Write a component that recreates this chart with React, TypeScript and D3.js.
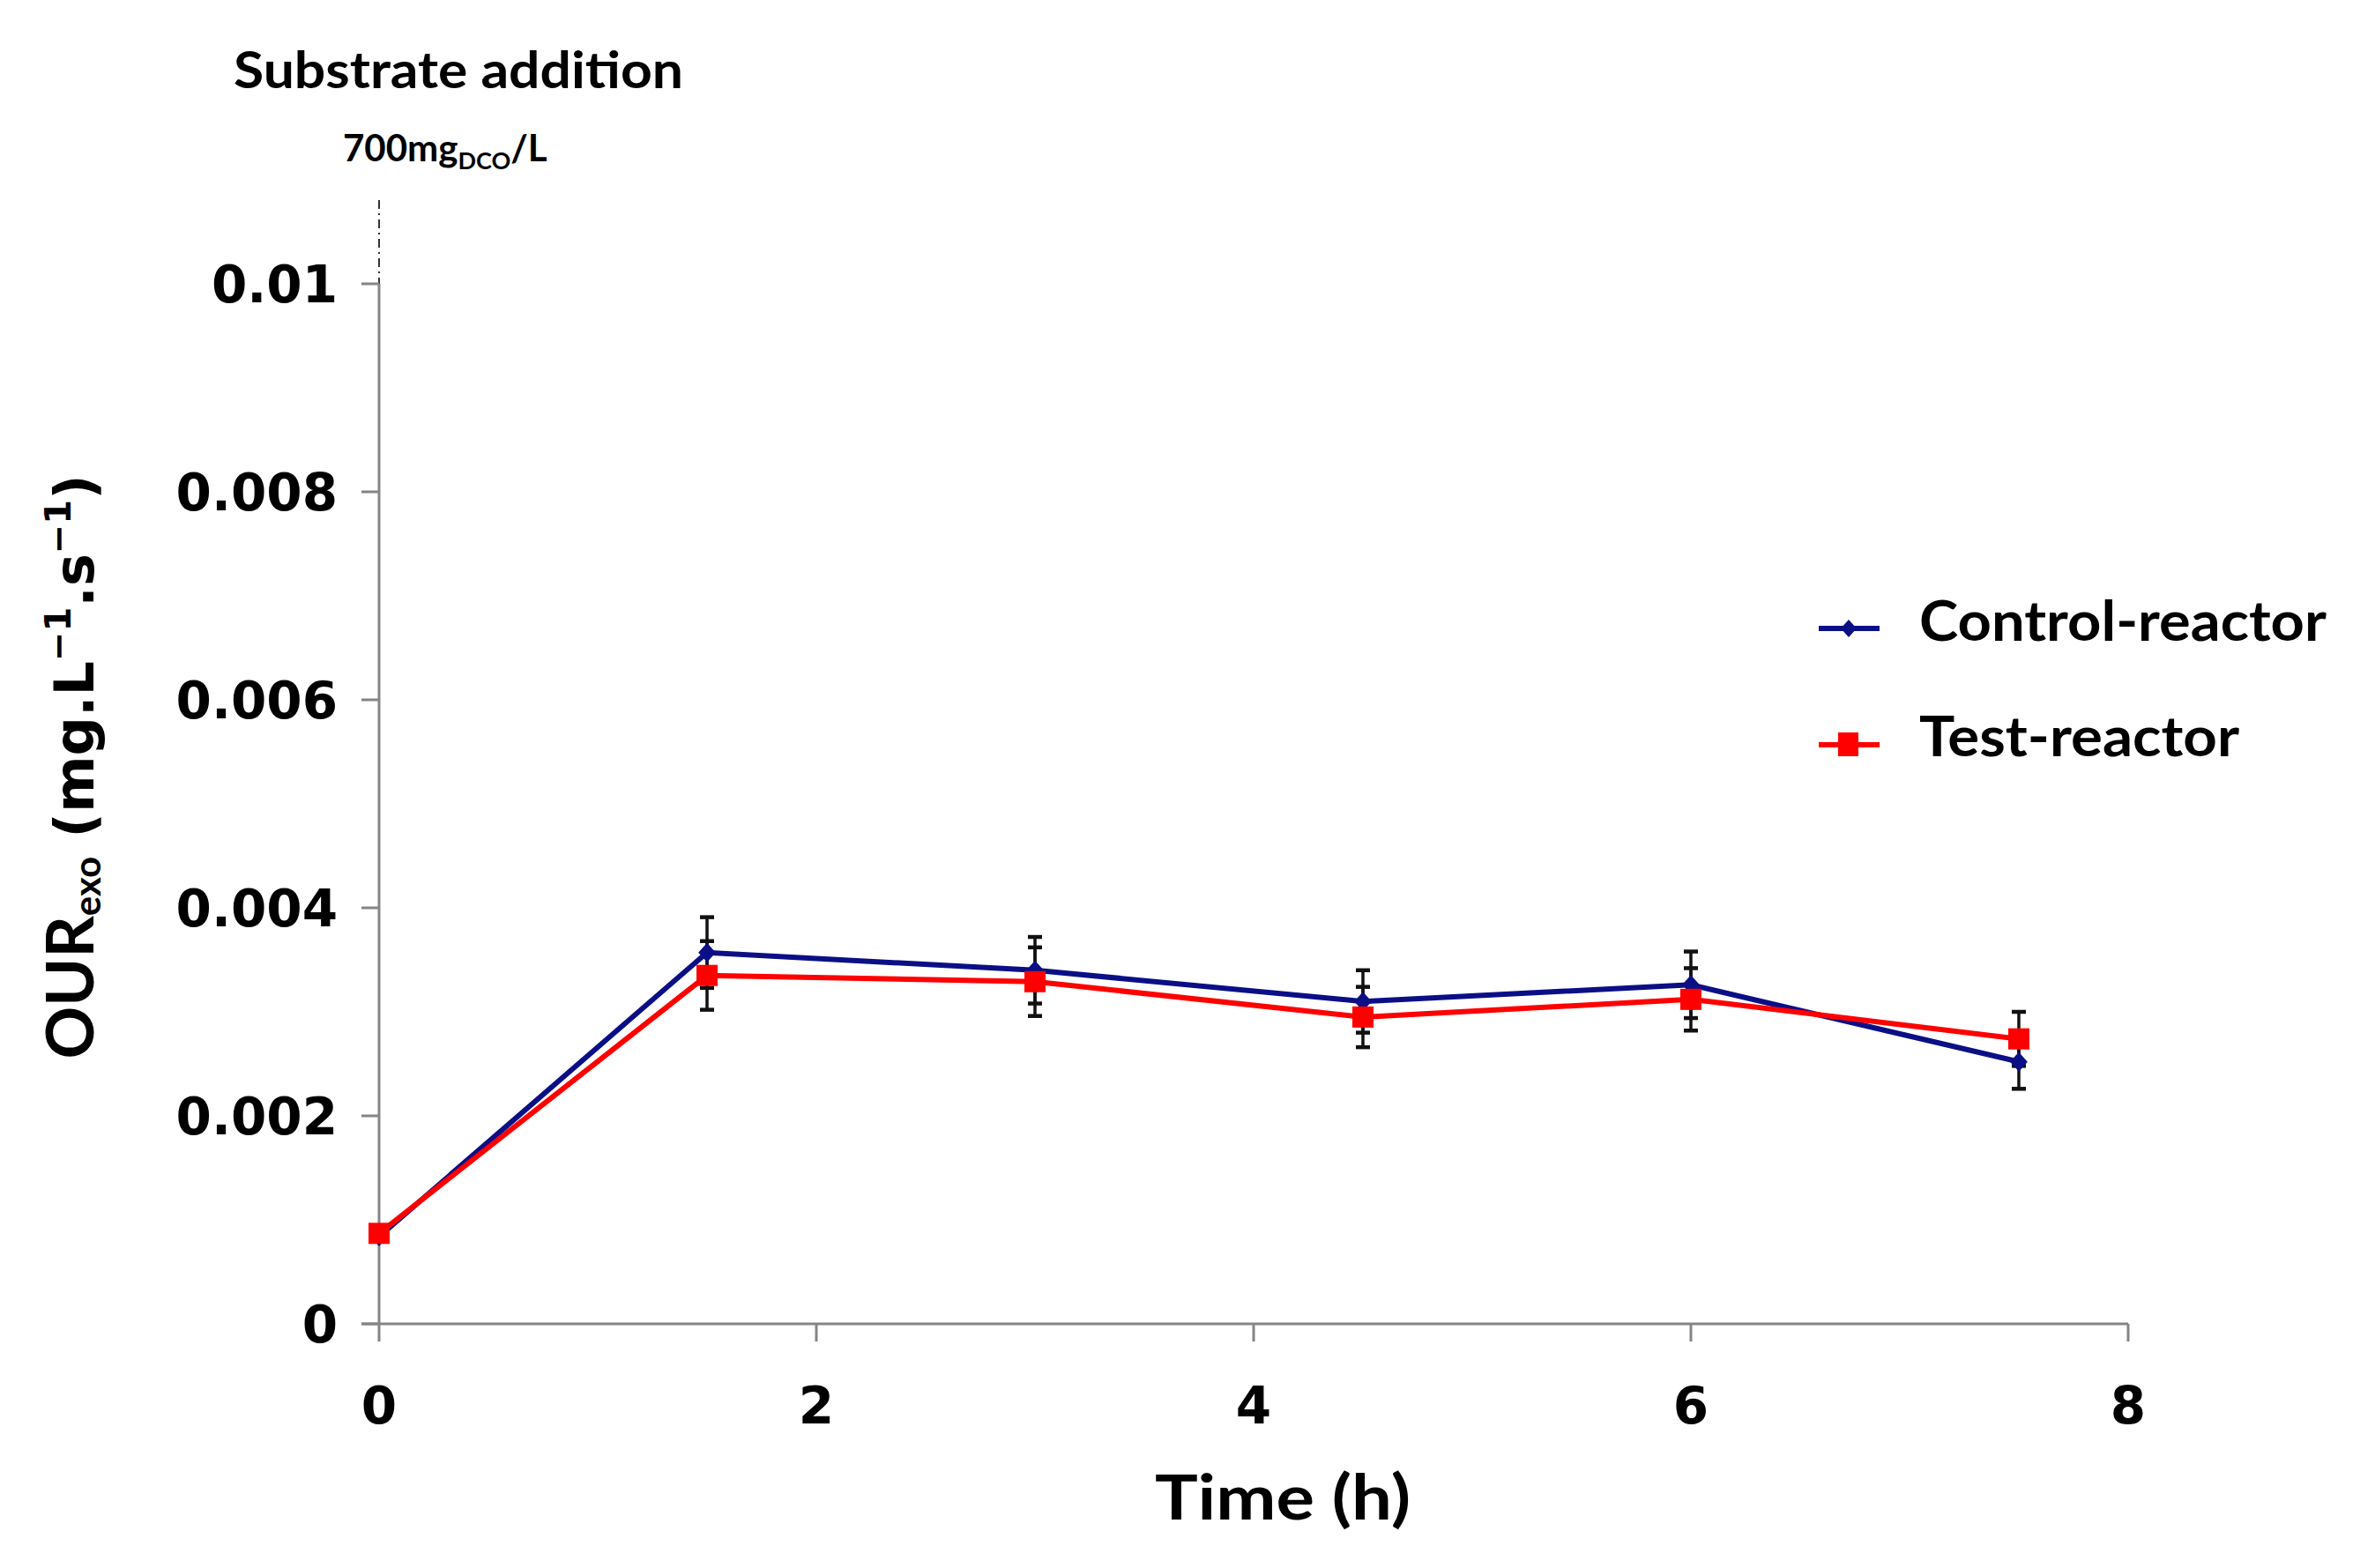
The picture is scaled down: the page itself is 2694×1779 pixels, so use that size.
import * as d3 from "d3"

const W = 2694
const H = 1779

const TIMES = [0, 1.5, 3, 4.5, 6, 7.5]
const CONTROL = [0.00084, 0.00357, 0.0034, 0.0031, 0.00326, 0.00252]
const CONTROL_ERR = [0.00005, 0.00034, 0.00032, 0.0003, 0.00032, 0.00026]
const TEST = [0.00087, 0.00335, 0.00329, 0.00295, 0.00312, 0.00274]
const TEST_ERR = [0.00005, 0.00033, 0.00033, 0.00029, 0.0003, 0.00026]

const X_TICKS = [0, 2, 4, 6, 8]
const Y_TICKS = [0, 0.002, 0.004, 0.006, 0.008, 0.01]
const Y_LABELS = ["0", "0.002", "0.004", "0.006", "0.008", "0.01"]

const BLUE = "#0b0f86"
const RED = "#ff0000"
const AXIS = "#858585"
const TICK_FONT = "'DejaVu Sans', Verdana, sans-serif"
const TITLE_FONT = "Lato, 'Open Sans', sans-serif"

type Pt = { t: number; v: number; e: number }

const zip = (vals: number[], errs: number[]): Pt[] =>
  TIMES.map((t, i) => ({ t, v: vals[i], e: errs[i] }))

export default function App() {
  const x = d3.scaleLinear().domain([0, 8]).range([430, 2414])
  const y = d3.scaleLinear().domain([0, 0.01]).range([1502, 322])

  const line = d3
    .line<Pt>()
    .x((d) => x(d.t))
    .y((d) => y(d.v))

  const control = zip(CONTROL, CONTROL_ERR)
  const test = zip(TEST, TEST_ERR)

  const diamond = (cx: number, cy: number, r = 11) =>
    `M${cx},${cy - r}L${cx + r * 0.9},${cy}L${cx},${cy + r}L${cx - r * 0.9},${cy}Z`

  const errBars = (pts: Pt[], key: string) =>
    pts.map((d, i) => {
      const px = x(d.t)
      const top = y(d.v + d.e)
      const bot = y(d.v - d.e)
      return (
        <g key={key + i} stroke="#111" strokeWidth={3.5}>
          <line x1={px} x2={px} y1={top} y2={bot} />
          <line x1={px - 8} x2={px + 8} y1={top} y2={top} strokeWidth={4.5} />
          <line x1={px - 8} x2={px + 8} y1={bot} y2={bot} strokeWidth={4.5} />
        </g>
      )
    })

  const [x0, x1] = x.range()
  const [y0, y1] = y.range()

  return (
    <svg
      width={W}
      height={H}
      viewBox={`0 0 ${W} ${H}`}
      style={{ position: "absolute", left: 0, top: 0, background: "#fff" }}
    >
      <rect width={W} height={H} fill="#fff" />

      {/* annotation at substrate addition */}
      <text x={265} y={100} fontFamily={TITLE_FONT} fontWeight={700} fontSize={58}
        textLength={510} lengthAdjust="spacingAndGlyphs" fill="#000">
        Substrate addition
      </text>
      <text x={389} y={183} fontFamily={TITLE_FONT} fontWeight={700} fontSize={42} fill="#000">
        700mg
        <tspan fontSize={27} dy={9}>DCO</tspan>
        <tspan dy={-9}>/L</tspan>
      </text>
      <line x1={x0} x2={x0} y1={227} y2={y1} stroke="#333" strokeWidth={2} strokeDasharray="10 5 2 5" />

      {/* axes */}
      <g stroke={AXIS} strokeWidth={3}>
        <line x1={x0} x2={x0} y1={y0} y2={y1} />
        <line x1={x0 - 20} x2={x1} y1={y0} y2={y0} />
        {Y_TICKS.map((t) => (
          <line key={"yt" + t} x1={x0 - 20} x2={x0} y1={y(t)} y2={y(t)} />
        ))}
        {X_TICKS.map((t) => (
          <line key={"xt" + t} x1={x(t)} x2={x(t)} y1={y0} y2={y0 + 20} />
        ))}
      </g>

      {Y_TICKS.map((t, i) => (
        <text key={"yl" + t} x={383} y={y(t)} dy="0.36em" textAnchor="end"
          fontFamily={TICK_FONT} fontWeight={700} fontSize={58} fill="#000">
          {Y_LABELS[i]}
        </text>
      ))}
      {X_TICKS.map((t) => (
        <text key={"xl" + t} x={x(t)} y={1594} dy="0.36em" textAnchor="middle"
          fontFamily={TICK_FONT} fontWeight={700} fontSize={58} fill="#000">
          {t}
        </text>
      ))}

      <text x={1455} y={1724} textAnchor="middle" fontFamily={TITLE_FONT} fontWeight={700}
        fontSize={70} textLength={290} lengthAdjust="spacingAndGlyphs" fill="#000">
        Time (h)
      </text>

      <g transform="translate(106, 870) rotate(-90)">
        <text x={0} y={0} textAnchor="middle" fontWeight={700} fill="#000" fontFamily={TICK_FONT} fontSize={62}>
          <tspan fontFamily={TITLE_FONT} fontSize={74}>OUR</tspan>
          <tspan fontFamily={TITLE_FONT} fontSize={42} dy={8}>exo</tspan>
          <tspan dy={-8}> (mg.L</tspan>
          <tspan fontSize={40} dy={-26}>−1</tspan>
          <tspan dy={26}>.s</tspan>
          <tspan fontSize={40} dy={-26}>−1</tspan>
          <tspan dy={26}>)</tspan>
        </text>
      </g>

      {/* error bars */}
      {errBars(control, "ce")}
      {errBars(test, "te")}

      {/* control series */}
      <path d={line(control) ?? ""} fill="none" stroke={BLUE} strokeWidth={6} />
      {control.map((d, i) => (
        <path key={"cm" + i} d={diamond(x(d.t), y(d.v))} fill={BLUE} />
      ))}

      {/* test series */}
      <path d={line(test) ?? ""} fill="none" stroke={RED} strokeWidth={6} />
      {test.map((d, i) => (
        <rect key={"tm" + i} x={x(d.t) - 12} y={y(d.v) - 12} width={24} height={24} fill={RED} />
      ))}

      {/* legend */}
      <g>
        <line x1={2063} x2={2132} y1={713} y2={713} stroke={BLUE} strokeWidth={6} />
        <path d={diamond(2097, 713, 10)} fill={BLUE} />
        <text x={2177} y={727} fontFamily={TITLE_FONT} fontWeight={700} fontSize={63}
          textLength={462} lengthAdjust="spacingAndGlyphs" fill="#000">
          Control-reactor
        </text>
        <line x1={2063} x2={2132} y1={845} y2={845} stroke={RED} strokeWidth={6} />
        <rect x={2085} y={831} width={23} height={27} fill={RED} />
        <text x={2177} y={858} fontFamily={TITLE_FONT} fontWeight={700} fontSize={63}
          textLength={363} lengthAdjust="spacingAndGlyphs" fill="#000">
          Test-reactor
        </text>
      </g>
    </svg>
  )
}
